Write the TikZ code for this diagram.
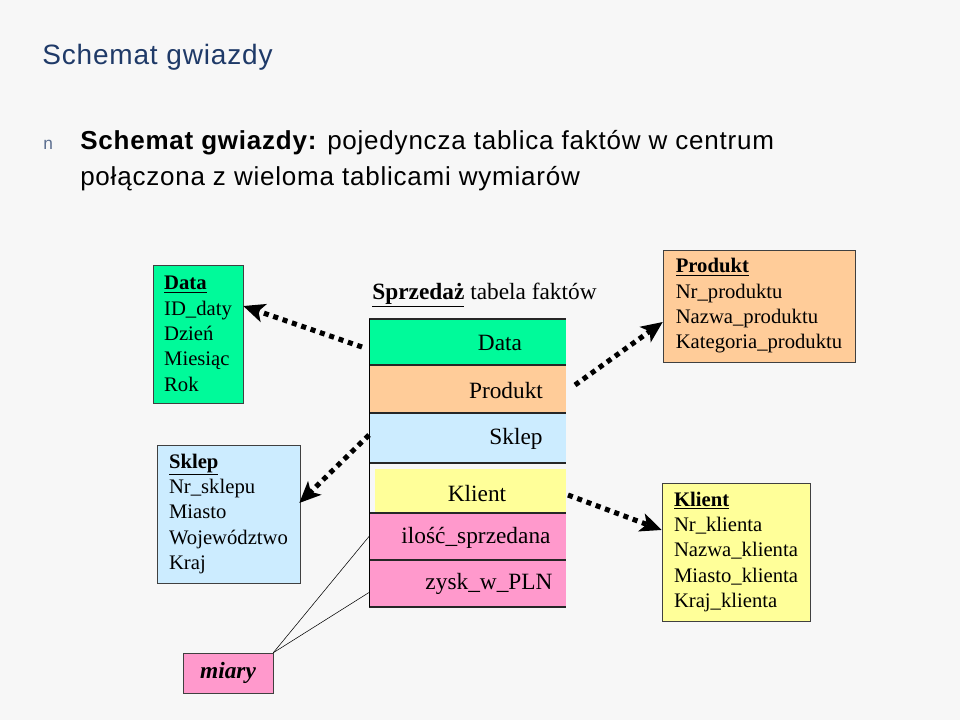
\documentclass[tikz,border=0pt]{standalone}
\usepackage{fontspec}
\setmainfont{Liberation Serif}
\setsansfont{Liberation Sans}
\newfontfamily\slidefont{Liberation Sans}[LetterSpace=3]
\usetikzlibrary{arrows.meta,positioning,calc}
\definecolor{bgcol}{HTML}{F7F7F7}
\definecolor{titleblue}{HTML}{1F3A68}
\definecolor{bulletcol}{HTML}{5B6E8F}
\definecolor{dimgreen}{HTML}{00FA9A}
\definecolor{dimblue}{HTML}{CCECFF}
\definecolor{dimorange}{HTML}{FFCC99}
\definecolor{dimyellow}{HTML}{FFFF99}
\definecolor{mpink}{HTML}{FF99CC}

\begin{document}
\begin{tikzpicture}[x=0.75pt,y=-0.75pt,
 dim/.style={draw=black!75,align=left,inner sep=0pt,font=\fontsize{15.5}{19}\selectfont},
 row/.style={minimum width=147.75pt,inner sep=0pt,outer sep=0pt},
 rowtxt/.style={inner sep=0pt,font=\fontsize{17.5}{21}\selectfont},
 sep/.style={line width=2.2pt,draw=black!85},
 thinsep/.style={line width=1.1pt,draw=black!85},
 link/.style={line width=3.8pt,dash pattern=on 3.8pt off 3.6pt,
   -{Stealth[length=16pt,width=14pt,inset=4pt]}},
 meas/.style={thin}]
\fill[bgcol] (0,0) rectangle (960,720);
\useasboundingbox (0,0) rectangle (960,720);

% heading
\node[anchor=base west,inner sep=0pt,text=titleblue,font=\slidefont\fontsize{21}{25}\selectfont] (title) at (42,65) {Schemat gwiazdy};
\node[anchor=base west,inner sep=0pt,text=bulletcol,font=\sffamily\fontsize{13}{15}\selectfont] (bul) at (43,150) {n};
\node[anchor=base west,inner sep=0pt,font=\slidefont\fontsize{19.5}{24}\selectfont] (line1) at (80,150) {{\bfseries Schemat gwiazdy:} pojedyncza tablica faktów w centrum};
\node[anchor=base west,inner sep=0pt,font=\slidefont\fontsize{19.5}{24}\selectfont] (line2) at (80,186) {połączona z wieloma tablicami wymiarów};

% fact table
\node[rowtxt] (ftitle) at (484.5,295) {\underline{\textbf{Sprzedaż}} tabela faktów};
\node[row,fill=dimgreen,minimum height=34.5pt] (rData) at (467.5,342) {};
\node[row,fill=dimorange,minimum height=36pt,below=0pt of rData] (rProd) {};
\node[row,fill=dimblue,minimum height=37.5pt,below=0pt of rProd] (rSklep) {};
\node[row,fill=bgcol,minimum height=37.5pt,below=0pt of rSklep] (rKlient) {};
\node[row,fill=mpink,minimum height=35.25pt,below=0pt of rKlient] (rIlosc) {};
\node[row,fill=mpink,minimum height=35.25pt,below=0pt of rIlosc] (rZysk) {};
\fill[dimyellow] ($(rKlient.north west)+(6,6)$) rectangle (rKlient.south east);
\node[rowtxt] (tData) at ($(rData.center)+(32.5,1)$) {Data};
\node[rowtxt] (tProd) at ($(rProd.center)+(38.5,2)$) {Produkt};
\node[rowtxt] (tSklep) at ($(rSklep.center)+(48.5,1)$) {Sklep};
\node[rowtxt] (tKlient) at ($(rKlient.center)+(9.5,6)$) {Klient};
\node[rowtxt] (tIlosc) at ($(rIlosc.center)+(8.5,1.5)$) {ilość\_sprzedana};
\node[rowtxt] (tZysk) at ($(rZysk.center)+(21.5,0)$) {zysk\_w\_PLN};
\draw[thinsep] (rData.north west) -- (rData.north east);
\draw[sep] (rData.south west) -- (rData.south east);
\draw[sep] (rProd.south west) -- (rProd.south east);
\draw[sep] (rSklep.south west) -- (rSklep.south east);
\draw[thinsep] (rKlient.south west) -- (rKlient.south east);
\draw[sep] (rIlosc.south west) -- (rIlosc.south east);
\draw[thinsep] (rZysk.south west) -- (rZysk.south east);
\draw[thin] (rData.north west) -- (rZysk.south west);

% dimension tables
\node[dim,fill=dimgreen,minimum width=67.5pt,minimum height=103.5pt] (dData) at (198,334)
 {\underline{\textbf{Data}}\\ID\_daty\\Dzień\\Miesiąc\\Rok};
\node[dim,fill=dimblue,minimum width=107.25pt,minimum height=103.5pt] (dSklep) at (228.5,514)
 {\underline{\textbf{Sklep}}\\Nr\_sklepu\\Miasto\\Województwo\\Kraj};
\node[dim,fill=dimorange,minimum width=144pt,minimum height=84pt] (dProd) at (759,306)
 {\underline{\textbf{Produkt}}\\Nr\_produktu\\Nazwa\_produktu\\Kategoria\_produktu};
\node[dim,fill=dimyellow,minimum width=111pt,minimum height=103.5pt] (dKlient) at (736,552)
 {\underline{\textbf{Klient}}\\Nr\_klienta\\Nazwa\_klienta\\Miasto\_klienta\\Kraj\_klienta};
\node[dim,fill=mpink,minimum width=67.5pt,minimum height=30pt,font=\fontsize{17.5}{21}\selectfont\bfseries\itshape] (miary) at (228,673) {miary};

% links
\draw[link] ($(rData.west)+(-7,5)$) -- ($(dData.east)+(0,-28)$);
\draw[link] ($(rProd.east)+(9,-4)$) -- ($(dProd.west)+(0,16)$);
\draw[link] ($(rSklep.west)+(0,-3)$) -- ($(dSklep.east)+(-1,-11)$);
\draw[link] ($(rKlient.east)+(2,7)$) -- ($(dKlient.west)+(0,-22)$);
\draw[meas] (miary.north east) -- (rIlosc.west);
\draw[meas] (miary.north east) -- ($(rZysk.west)+(0,9)$);
\end{tikzpicture}
\end{document}
